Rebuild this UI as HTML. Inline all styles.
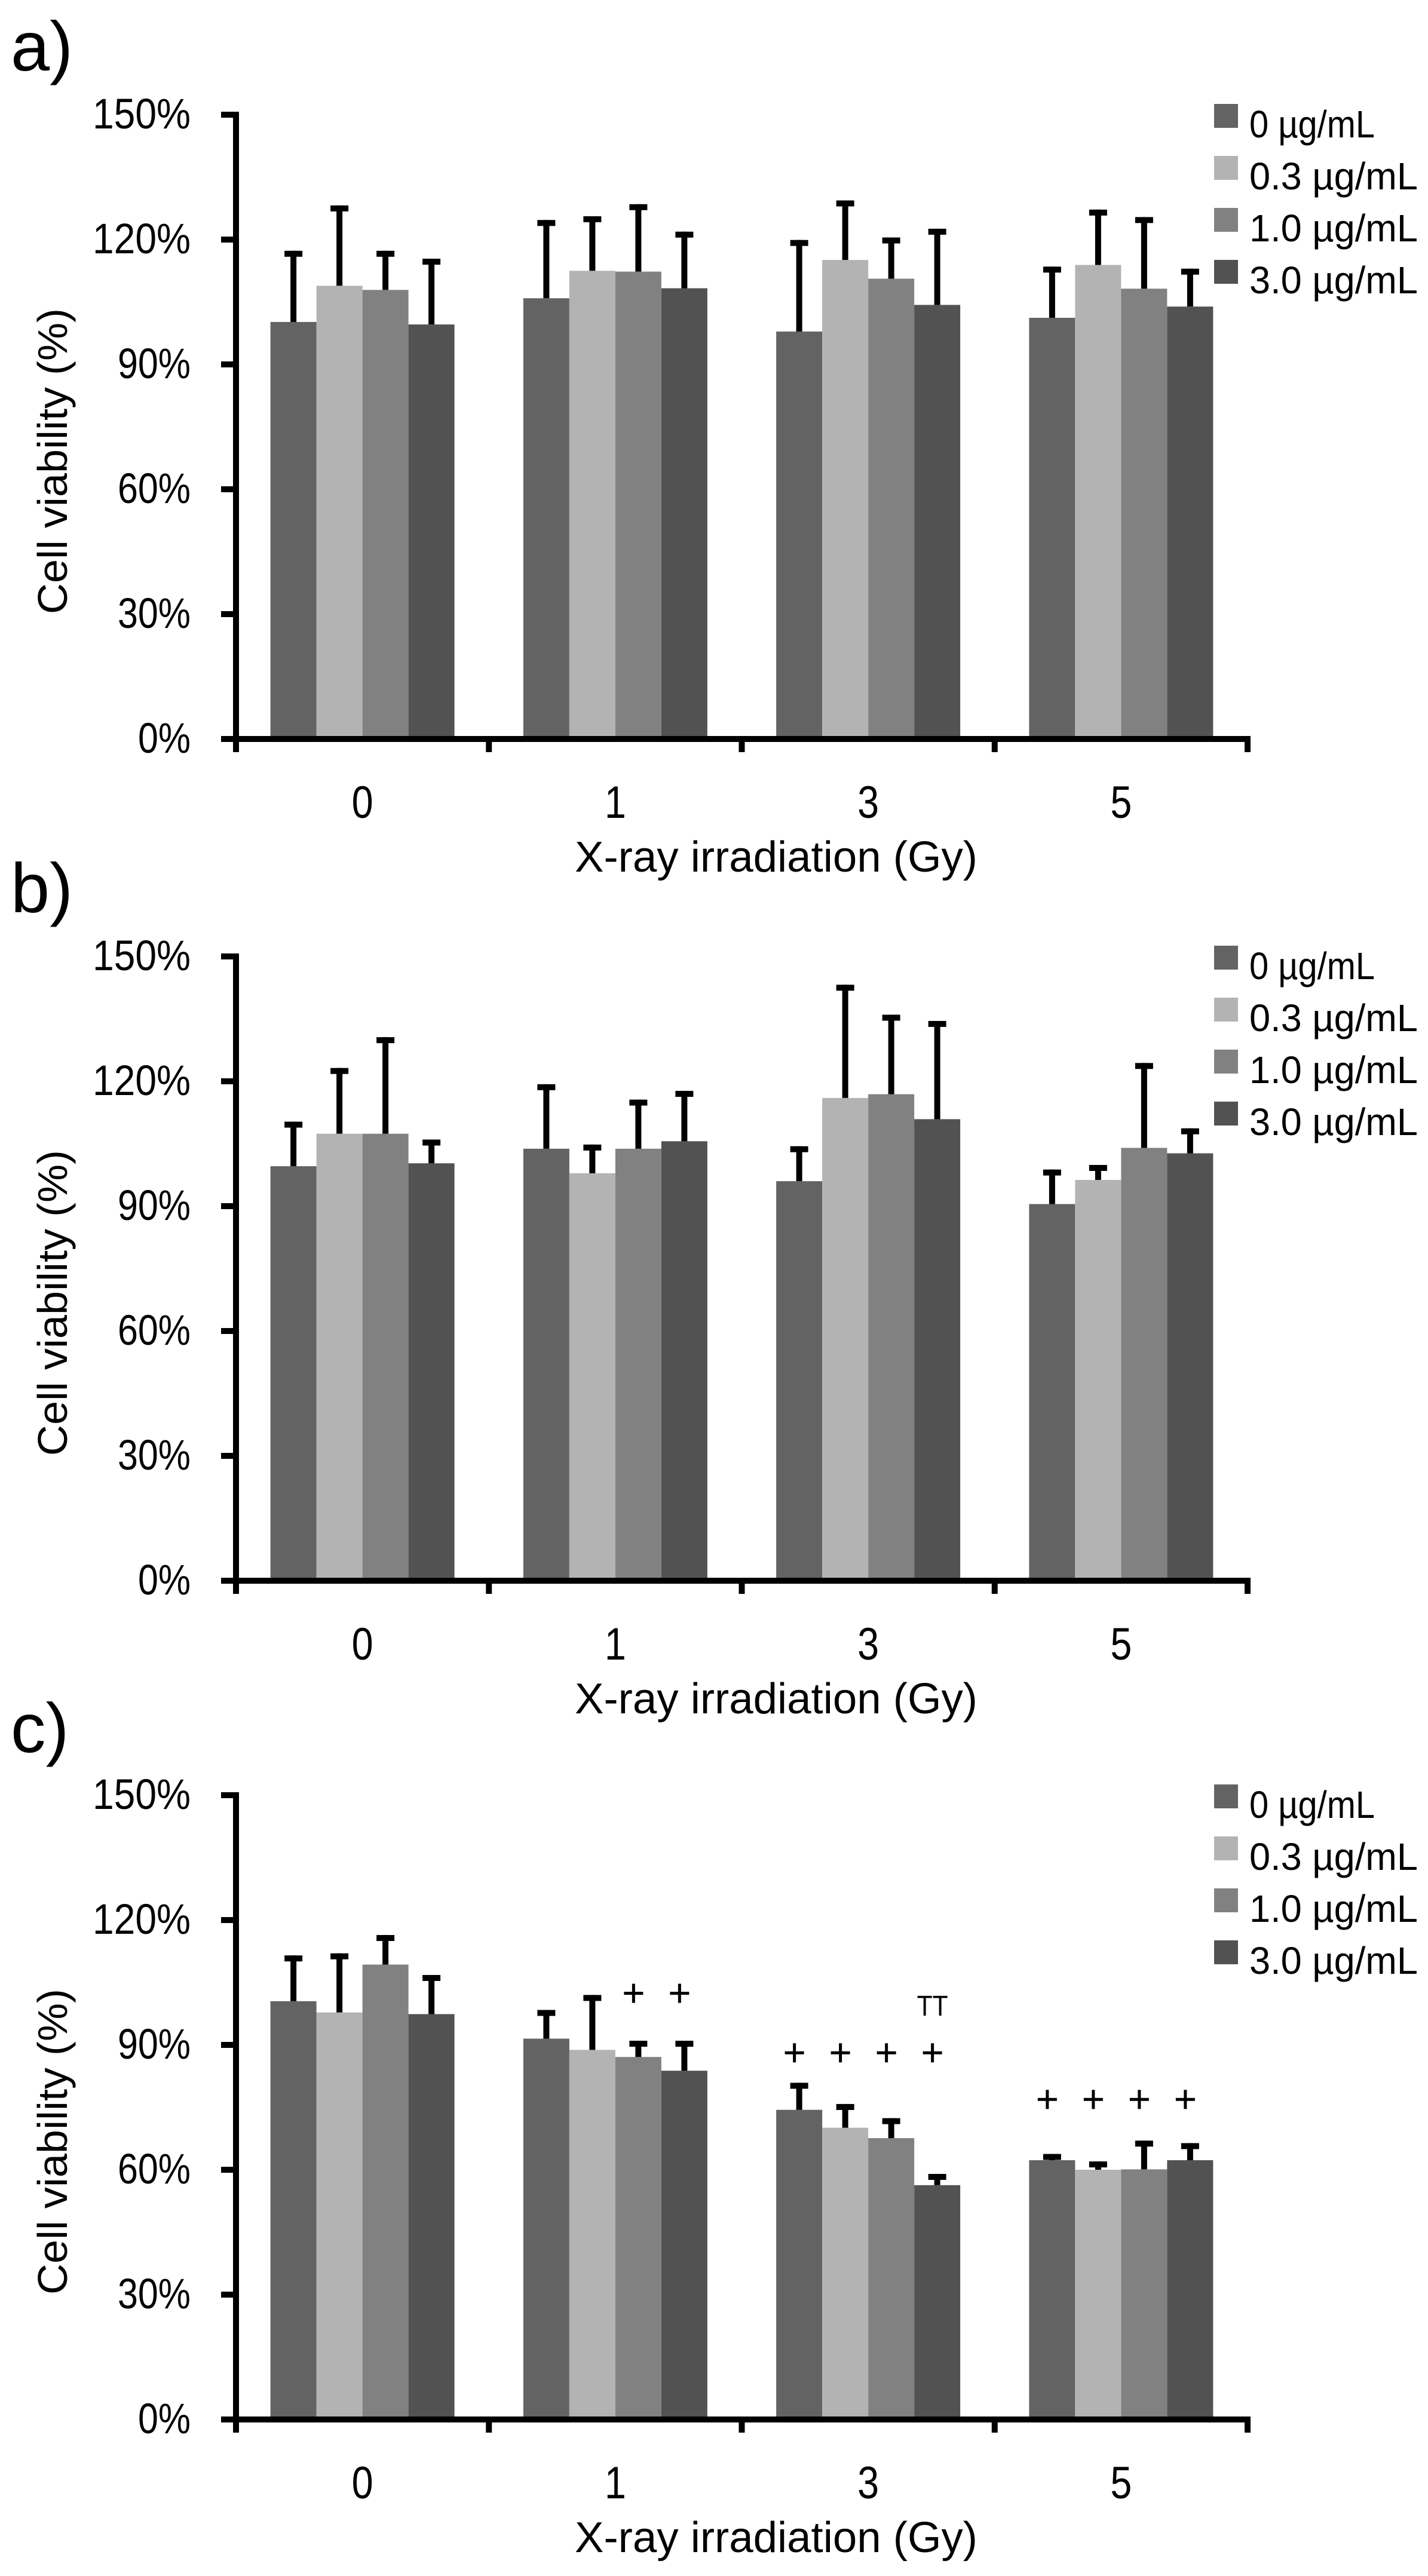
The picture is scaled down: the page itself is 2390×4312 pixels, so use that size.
<!DOCTYPE html>
<html><head><meta charset="utf-8"><style>
html,body{margin:0;padding:0;background:#fff;}
svg{display:block;}
text{font-family:"Liberation Sans",Arial,sans-serif;fill:#000;}
</style></head>
<body>
<svg id="fig" width="2390" height="4312" viewBox="0 0 2390 4312" xmlns="http://www.w3.org/2000/svg"></svg>
<script>
const categories = ["0","1","3","5"];
const seriesNames = ["0 µg/mL","0.3 µg/mL","1.0 µg/mL","3.0 µg/mL"];
const yTickLabels = ["0%","30%","60%","90%","120%","150%"];
const yTickValues = [0,30,60,90,120,150];
// panel a
const aMeans = [[100.2,108.9,107.9,99.6],[105.9,112.5,112.3,108.3],[97.9,115.1,110.6,104.3],[101.2,113.9,108.2,103.9]];
const aErrTop = [[117.3,128.2,117.3,115.4],[124.7,125.6,128.5,121.9],[119.9,129.4,120.5,122.6],[113.5,127.2,125.4,113.0]];
// panel b
const bMeans = [[99.6,107.4,107.4,100.3],[103.8,97.9,103.8,105.6],[96.0,116.0,116.9,110.9],[90.5,96.3,104.0,102.7]];
const bErrTop = [[110.3,123.2,130.6,106.0],[119.3,104.8,115.6,117.7],[104.4,143.2,136.0,134.5],[98.8,99.9,124.4,108.7]];
// panel c
const cMeans = [[100.5,97.8,109.3,97.4],[91.5,88.8,87.1,83.8],[74.4,70.1,67.6,56.3],[62.3,60.0,60.1,62.3]];
const cErrTop = [[111.5,112.0,116.4,106.8],[98.4,102.0,91.0,91.0],[80.9,75.8,72.4,59.0],[63.8,62.0,67.0,66.4]];
// significance marks in panel c: [group, series, symbol, y-level %]
const cMarks = [[1,2,"+",102.4],[1,3,"+",102.4],[2,0,"+",88.1],[2,1,"+",88.1],[2,2,"+",88.1],[2,3,"+",88.1],[2,3,"TT",99.5],[3,0,"+",76.9],[3,1,"+",76.9],[3,2,"+",76.9],[3,3,"+",76.9]];

const colors = ["#636363","#b3b3b3","#818181","#525252"];
const NS = "http://www.w3.org/2000/svg";
const svg = document.getElementById("fig");
function mk(tag, attrs, parent){const e=document.createElementNS(NS,tag);for(const k in attrs)e.setAttribute(k,attrs[k]);(parent||svg).appendChild(e);return e;}

const panels = [
  {id:"a", top:192, labelY:118, means:aMeans, err:aErrTop, marks:[]},
  {id:"b", top:1601, labelY:1527, means:bMeans, err:bErrTop, marks:[]},
  {id:"c", top:3005, labelY:2933, means:cMeans, err:cErrTop, marks:cMarks}
];
const AX = 395, AXEND = 2088, H = 1045;
const slot = (AXEND-AX)/categories.length, barW = 77, pad = (slot-4*barW)/2;

panels.forEach(p=>{
  const g = mk("g",{});
  
  
  const y = v => p.top + H - v/150*H;
  const xb = (gi,si) => AX + gi*slot + pad + si*barW;

  const lab = mk("text",{x:18,y:p.labelY,"font-size":117},g); lab.textContent=p.id+")";
  
  

  p.means.forEach((grp,gi)=>grp.forEach((v,si)=>{
    const r = mk("rect",{x:xb(gi,si),y:y(v),width:barW,height:y(0)-y(v),fill:colors[si]},g);
    
    
  }));
  p.err.forEach((grp,gi)=>grp.forEach((e,si)=>{
    const cx = xb(gi,si)+barW/2;
    const eg = mk("g",{},g);
    
    
    mk("rect",{x:cx-5,y:y(e),width:10,height:y(p.means[gi][si])-y(e),fill:"#000"},eg);
    mk("rect",{x:cx-15,y:y(e),width:30,height:10,fill:"#000"},eg);
  }));
  const ya = mk("rect",{x:AX-5,y:y(150)-5,width:10,height:y(0)-y(150)+10,fill:"#000"},g);
  
  
  yTickValues.forEach((v,i)=>{
    mk("rect",{x:AX-25,y:y(v)-5,width:25,height:10,fill:"#000"},g);
    const t = mk("text",{x:319,y:y(v)+23,"font-size":71,"text-anchor":"end",textLength:v>=100?164:(v>0?122:88),lengthAdjust:"spacingAndGlyphs"},g);
    t.textContent = yTickLabels[i];
    
    
  });
  const xa = mk("rect",{x:AX-25,y:y(0)-5,width:AXEND-AX+30,height:10,fill:"#000"},g);
  
  
  for(let i=0;i<=categories.length;i++) mk("rect",{x:AX+i*slot-5,y:y(0),width:10,height:22,fill:"#000"},g);
  categories.forEach((c,i)=>{
    const t = mk("text",{x:AX+(i+0.5)*slot,y:y(0)+132,"font-size":76,"text-anchor":"middle",textLength:36,lengthAdjust:"spacingAndGlyphs"},g);
    t.textContent=c;
    
    
  });
  const xt = mk("text",{x:1299,y:y(0)+222,"font-size":72,"text-anchor":"middle",textLength:674,lengthAdjust:"spacingAndGlyphs"},g);
  xt.textContent="X-ray irradiation (Gy)";
  
  
  const yt = mk("text",{x:0,y:0,"font-size":70,"text-anchor":"middle",textLength:512,lengthAdjust:"spacingAndGlyphs",transform:`translate(112,${p.top+580}) rotate(-90)`},g);
  yt.textContent="Cell viability (%)";
  
  
  seriesNames.forEach((n,i)=>{
    const lg = mk("g",{},g);
    
    
    mk("rect",{x:2032,y:p.top-18+i*87,width:40,height:40,fill:colors[i]},lg);
    const t = mk("text",{x:2091,y:p.top+38+i*87,"font-size":64,textLength:i==0?210:282,lengthAdjust:"spacingAndGlyphs"},lg);
    t.textContent=n;
  });
  p.marks.forEach(m=>{
    const cx = xb(m[0],m[1])+barW/2-8;
    const cy = y(m[3]);
    if(m[2]==="+"){
      const pg = mk("g",{},g);
      
      
      mk("rect",{x:cx-16,y:cy-2.5,width:32,height:5,fill:"#000"},pg);
      mk("rect",{x:cx-2.5,y:cy-16,width:5,height:32,fill:"#000"},pg);
    } else {
      const t = mk("text",{x:cx,y:cy+17,"font-size":48,"text-anchor":"middle",textLength:52,lengthAdjust:"spacingAndGlyphs"},g);
      t.textContent=m[2];
      
      
    }
  });
});
</script>
</body></html>
